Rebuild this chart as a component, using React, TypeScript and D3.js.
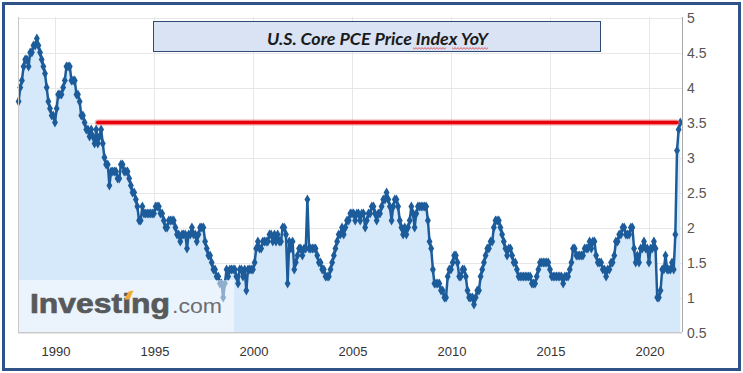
import React, { useEffect, useRef } from 'react';
import * as d3 from 'd3';

// U.S. core PCE price index, YoY %, one value per month, first one is Mar 1988
const firstMonth = new Date(1988, 2, 1);

const values1980s = [
  3.8, 4.0, 4.1, 4.3, 4.4, 4.4, 4.3, 4.5, 4.5, 4.6,
  4.6, 4.7, 4.6, 4.5, 4.4, 4.3, 4.2, 4.0, 3.8, 3.7, 3.6, 3.6,
];
const values1990s = [
  3.5, 3.7, 3.9, 3.9, 3.9, 4.0, 4.1, 4.3, 4.3, 4.3, 4.1, 4.1,
  4.1, 3.9, 3.9, 3.8, 3.6, 3.6, 3.5, 3.4, 3.4, 3.3, 3.4, 3.3,
  3.2, 3.4, 3.2, 3.3, 3.4, 3.2, 3.0, 2.9, 2.9, 2.6, 2.8, 2.8,
  2.8, 2.8, 2.7, 2.7, 2.9, 2.9, 2.8, 2.8, 2.8, 2.7, 2.6, 2.5,
  2.5, 2.4, 2.3, 2.1, 2.1, 2.3, 2.2, 2.2, 2.2, 2.2, 2.2, 2.2,
  2.2, 2.3, 2.3, 2.3, 2.2, 2.2, 2.1, 2.0, 2.0, 2.1, 2.1, 2.1,
  2.1, 2.0, 1.9, 1.9, 1.8, 1.9, 1.9, 1.9, 1.7, 1.9, 1.9, 2.0,
  1.9, 1.9, 1.8, 1.9, 2.0, 2.0, 2.0, 1.8, 1.7, 1.6, 1.6, 1.5,
  1.4, 1.4, 1.3, 1.3, 1.2, 1.2, 1.0, 1.2, 1.4, 1.3, 1.4, 1.4,
  1.4, 1.4, 1.3, 1.2, 1.4, 1.4, 1.3, 1.4, 1.1, 1.4, 1.4, 1.4,
];
const values2000s = [
  1.4, 1.5, 1.7, 1.8, 1.7, 1.7, 1.8, 1.8, 1.8, 1.8, 1.9, 1.9,
  1.8, 1.9, 1.8, 1.9, 1.8, 1.8, 2.0, 2.0, 1.9, 1.2, 1.8, 1.7,
  1.8, 1.4, 1.5, 1.6, 1.7, 1.7, 1.6, 1.7, 1.7, 2.4, 1.7, 1.7,
  1.7, 1.7, 1.7, 1.6, 1.5, 1.5, 1.4, 1.4, 1.3, 1.3, 1.3, 1.4,
  1.5, 1.6, 1.7, 1.8, 1.9, 1.9, 2.0, 1.9, 2.0, 2.1, 2.1, 2.2,
  2.2, 2.2, 2.1, 2.2, 2.2, 2.1, 2.2, 2.2, 2.0, 2.1, 2.2, 2.2,
  2.3, 2.3, 2.2, 2.1, 2.2, 2.2, 2.3, 2.4, 2.4, 2.5, 2.4, 2.3,
  2.1, 2.3, 2.4, 2.4, 2.3, 2.1, 2.0, 1.9, 2.0, 1.9, 2.0, 2.1,
  2.3, 2.2, 2.0, 2.2, 2.3, 2.3, 2.3, 2.3, 2.3, 2.3, 2.1, 1.8,
  1.7, 1.4, 1.2, 1.2, 1.2, 1.2, 1.1, 1.1, 1.0, 1.0, 1.3, 1.4,
];
const values2010s = [
  1.4, 1.5, 1.6, 1.6, 1.5, 1.3, 1.3, 1.4, 1.4, 1.3, 1.1, 1.0,
  1.0, 1.0, 0.9, 1.0, 1.1, 1.1, 1.3, 1.4, 1.5, 1.6, 1.7, 1.7,
  1.8, 1.8, 2.0, 2.1, 2.1, 2.1, 2.0, 1.9, 1.8, 1.7, 1.6, 1.7,
  1.7, 1.6, 1.5, 1.5, 1.4, 1.3, 1.3, 1.3, 1.3, 1.3, 1.3, 1.3,
  1.3, 1.2, 1.2, 1.2, 1.3, 1.4, 1.5, 1.5, 1.5, 1.5, 1.5, 1.5,
  1.4, 1.3, 1.3, 1.3, 1.3, 1.3, 1.3, 1.3, 1.2, 1.3, 1.3, 1.3,
  1.4, 1.5, 1.7, 1.7, 1.6, 1.6, 1.6, 1.6, 1.6, 1.7, 1.7, 1.7,
  1.8, 1.7, 1.8, 1.8, 1.6, 1.5, 1.5, 1.5, 1.4, 1.4, 1.3, 1.4,
  1.4, 1.5, 1.5, 1.6, 1.8, 1.8, 1.9, 1.9, 2.0, 2.0, 1.9, 1.9,
  1.9, 2.0, 2.0, 1.7, 1.5, 1.6, 1.5, 1.7, 1.7, 1.8, 1.7, 1.7,
];
const values2020s = [
  1.5, 1.7, 1.7, 1.8, 1.7, 1.0, 1.0, 1.1, 1.4, 1.4, 1.6, 1.4,
  1.4, 1.4, 1.5, 1.4, 1.9, 3.1, 3.4, 3.5,
];

const yTicks = [0.5, 1, 1.5, 2, 2.5, 3, 3.5, 4, 4.5, 5];
const xTickYears = [1990, 1995, 2000, 2005, 2010, 2015, 2020];

// red 3.5% marker line
const refLevel = 3.5;
const refStart = new Date(1992, 2, 1);
const refEnd = new Date(2021, 4, 25);

const title = 'U.S. Core PCE Price Index YoY';

const W = 743;
const H = 373;
const left = 18;
const right = 682;
const top = 17;
const bottom = 332;

const App = () => {
  const ref = useRef<SVGSVGElement>(null);

  useEffect(() => {
    const all = [...values1980s, ...values1990s, ...values2000s, ...values2010s, ...values2020s];
    const data = all.map((v, i) => ({ date: d3.timeMonth.offset(firstMonth, i), v }));

    const x = d3
      .scaleTime()
      .domain([new Date(1988, 1, 19), new Date(2021, 8, 1)])
      .range([left, right]);
    const y = d3.scaleLinear().domain([0.5, 5]).range([bottom + 0.5, top + 0.5]);

    const svg = d3.select(ref.current);
    svg.selectAll('*').remove();

    svg.append('rect').attr('width', W).attr('height', H).attr('fill', '#fff');

    // grid
    const grid = svg.append('g').attr('stroke', '#e7e7e7').attr('stroke-width', 1);
    grid
      .selectAll('line.h')
      .data(yTicks)
      .join('line')
      .attr('x1', left)
      .attr('x2', right)
      .attr('y1', (d) => Math.round(y(d)) + 0.5)
      .attr('y2', (d) => Math.round(y(d)) + 0.5);
    grid
      .selectAll('line.v')
      .data(xTickYears)
      .join('line')
      .attr('class', 'v')
      .attr('x1', (d) => Math.round(x(new Date(d, 0, 1))) + 0.5)
      .attr('x2', (d) => Math.round(x(new Date(d, 0, 1))) + 0.5)
      .attr('y1', top)
      .attr('y2', bottom);

    // area + line
    const area = d3
      .area<{ date: Date; v: number }>()
      .x((d) => x(d.date))
      .y0(bottom)
      .y1((d) => y(d.v));
    svg.append('path').datum(data).attr('d', area).attr('fill', '#d6e9fa');

    const line = d3
      .line<{ date: Date; v: number }>()
      .x((d) => x(d.date))
      .y((d) => y(d.v));
    svg
      .append('path')
      .datum(data)
      .attr('d', line)
      .attr('fill', 'none')
      .attr('stroke', '#1d5c9b')
      .attr('stroke-width', 2.5)
      .attr('stroke-linejoin', 'round');

    const sym = d3.symbol().type(d3.symbolDiamond).size(30);
    svg
      .append('g')
      .selectAll('path')
      .data(data)
      .join('path')
      .attr('transform', (d) => `translate(${x(d.date)},${y(d.v)})`)
      .attr('d', sym)
      .attr('fill', '#1d5c9b');

    // plot frame
    svg
      .append('line')
      .attr('x1', left + 0.5)
      .attr('x2', left + 0.5)
      .attr('y1', top)
      .attr('y2', bottom)
      .attr('stroke', '#c8c8c8');
    svg
      .append('line')
      .attr('x1', left)
      .attr('x2', right)
      .attr('y1', bottom + 0.5)
      .attr('y2', bottom + 0.5)
      .attr('stroke', '#c8c8c8');
    svg
      .append('line')
      .attr('x1', right + 0.5)
      .attr('x2', right + 0.5)
      .attr('y1', top)
      .attr('y2', bottom)
      .attr('stroke', '#a8a8a8');

    // red line
    svg
      .append('line')
      .attr('x1', x(refStart))
      .attr('x2', x(refEnd))
      .attr('y1', y(refLevel))
      .attr('y2', y(refLevel))
      .attr('stroke', '#f06a6a')
      .attr('stroke-width', 6)
      .attr('stroke-linecap', 'round')
      .attr('opacity', 0.6);
    svg
      .append('line')
      .attr('x1', x(refStart))
      .attr('x2', x(refEnd))
      .attr('y1', y(refLevel))
      .attr('y2', y(refLevel))
      .attr('stroke', '#e8000a')
      .attr('stroke-width', 3.5)
      .attr('stroke-linecap', 'round');

    // axis labels
    svg
      .append('g')
      .selectAll('text')
      .data(yTicks)
      .join('text')
      .attr('x', right + 5)
      .attr('y', (d) => y(d) + 1.5)
      .attr('dominant-baseline', 'middle')
      .attr('font-family', 'Liberation Sans, Arial, sans-serif')
      .attr('font-size', 14)
      .attr('fill', '#555')
      .text((d) => String(d));
    svg
      .append('g')
      .selectAll('text')
      .data(xTickYears)
      .join('text')
      .attr('x', (d) => x(new Date(d, 0, 1)) + 1)
      .attr('y', 356)
      .attr('text-anchor', 'middle')
      .attr('font-family', 'Liberation Sans, Arial, sans-serif')
      .attr('font-size', 13)
      .attr('fill', '#333')
      .text((d) => String(d));

    // logo
    svg
      .append('rect')
      .attr('x', left + 1)
      .attr('y', 280)
      .attr('width', 215)
      .attr('height', bottom - 280)
      .attr('fill', '#fff')
      .attr('opacity', 0.5);
    svg
      .append('text')
      .attr('x', 30)
      .attr('y', 313)
      .attr('font-family', 'Liberation Sans, Arial, sans-serif')
      .attr('font-weight', 'bold')
      .attr('font-size', 27)
      .attr('fill', '#58595b')
      .attr('stroke', '#58595b')
      .attr('stroke-width', 0.7)
      .attr('textLength', 140)
      .attr('lengthAdjust', 'spacingAndGlyphs')
      .text('Investing');
    svg
      .append('path')
      .attr('d', 'M124.5,299.5 L128.5,291.5 L133.5,290.5 L129.5,299.5 Z')
      .attr('fill', '#f2ac35');
    svg
      .append('text')
      .attr('x', 172)
      .attr('y', 313)
      .attr('font-family', 'Liberation Sans, Arial, sans-serif')
      .attr('font-size', 21)
      .attr('fill', '#6d6e70')
      .attr('textLength', 50)
      .attr('lengthAdjust', 'spacingAndGlyphs')
      .text('.com');

    // title box
    svg
      .append('rect')
      .attr('x', 153.5)
      .attr('y', 21.5)
      .attr('width', 447)
      .attr('height', 30)
      .attr('fill', '#dae3f3')
      .attr('stroke', '#2f4a73')
      .attr('stroke-width', 1);
    svg
      .append('text')
      .attr('x', 377.5)
      .attr('y', 45)
      .attr('text-anchor', 'middle')
      .attr('font-family', 'Lato, Open Sans, sans-serif')
      .attr('font-weight', 'bold')
      .attr('font-style', 'italic')
      .attr('font-size', 17)
      .attr('fill', '#1b1b1b')
      .attr('textLength', 221)
      .attr('lengthAdjust', 'spacingAndGlyphs')
      .text(title);

    // spell-check squiggles under "Index" and "YoY"
    const wave = (x0: number, x1: number, yy: number) => {
      const pts: [number, number][] = [];
      for (let px = x0, k = 0; px <= x1; px += 1.5, k++) pts.push([px, yy + (k % 2 ? 1 : -0.3)]);
      return d3.line()(pts);
    };
    [
      [413, 447],
      [452, 489],
    ].forEach(([a, b]) => {
      svg
        .append('path')
        .attr('d', wave(a, b, 48))
        .attr('fill', 'none')
        .attr('stroke', '#e03030')
        .attr('stroke-width', 0.8);
    });

    // outer frame
    svg
      .append('rect')
      .attr('x', 3.5)
      .attr('y', 3.5)
      .attr('width', W - 7)
      .attr('height', H - 7)
      .attr('fill', 'none')
      .attr('stroke', '#2f5288')
      .attr('stroke-width', 3);
  }, []);

  return (
    <svg
      ref={ref}
      width={W}
      height={H}
      style={{ position: 'absolute', left: 0, top: 0, display: 'block' }}
    />
  );
};

export default App;
